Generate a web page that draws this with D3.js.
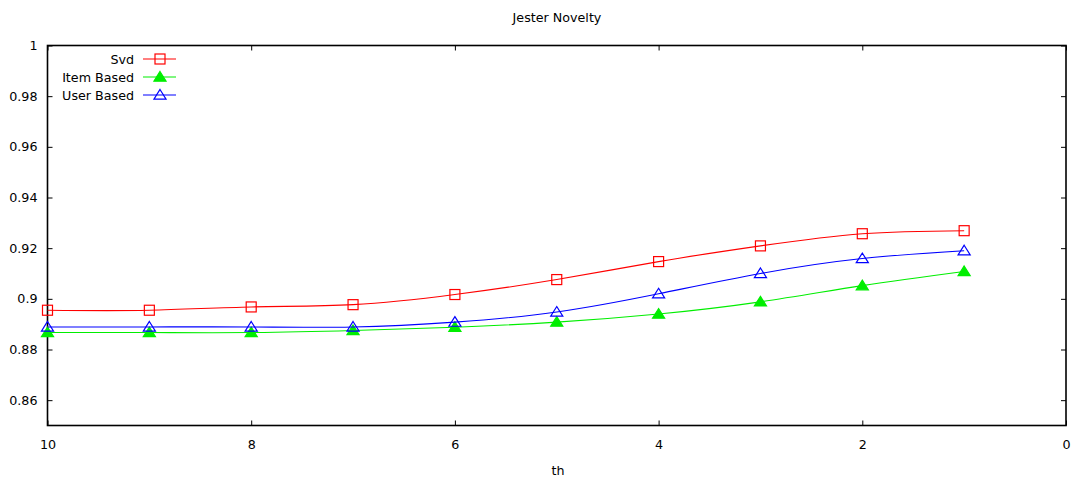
<!DOCTYPE html>
<html>
<head>
<meta charset="utf-8">
<script src="https://cdn.jsdelivr.net/npm/d3@7"></script>
<style>
  html, body { margin: 0; padding: 0; background: #fff; }
  svg { display: block; font-family: "DejaVu Sans", Verdana, sans-serif; }
</style>
</head>
<body>
<svg id="chart" width="1082" height="481"></svg>
<script>
// Novelty by threshold for three recommenders
const thresholds = [10, 9, 8, 7, 6, 5, 4, 3, 2, 1];
const svdValues  = [0.8955, 0.8955, 0.8968, 0.8977, 0.9017, 0.9076, 0.9147, 0.9209, 0.9257, 0.9269];
const itemValues = [0.8867, 0.8867, 0.8867, 0.8875, 0.8888, 0.8908, 0.8940, 0.8988, 0.9052, 0.9108];
const userValues = [0.8889, 0.8889, 0.8889, 0.8889, 0.8908, 0.8948, 0.9020, 0.9100, 0.9159, 0.9190];
const xTicks = [10, 8, 6, 4, 2, 0];
const yTicks = [0.86, 0.88, 0.9, 0.92, 0.94, 0.96, 0.98, 1];
const seriesNames = ["Svd", "Item Based", "User Based"];
const seriesColors = ["#ff0000", "#00ee00", "#0000ff"];
const seriesMarkers = ["square", "filledTriangle", "triangle"];

const FONT_SIZE = 12.7;
const svg = d3.select("#chart");
const plotLeft = 47.5, plotRight = 1066, plotTop = 45.5, plotBottom = 425.5;

const x = d3.scaleLinear().domain([10, 0]).range([plotLeft, plotRight]);
const y = d3.scaleLinear().domain([0.85, 1]).range([plotBottom, plotTop]);

// title
svg.append("text")
  .attr("x", 557).attr("y", 22)
  .attr("text-anchor", "middle")
  .attr("font-size", FONT_SIZE)
  .text("Jester Novelty");

// axes with inward ticks, mirrored on the opposite side
const tickStyle = g => {
  g.select(".domain").remove();
  g.selectAll(".tick line").attr("stroke", "#000").attr("stroke-width", 1);
  g.selectAll(".tick text").attr("font-size", FONT_SIZE).attr("fill", "#000")
    .attr("font-family", "DejaVu Sans, Verdana, sans-serif");
};

svg.append("g")
  .attr("transform", `translate(0,${plotBottom})`)
  .call(d3.axisBottom(x).tickValues(xTicks).tickFormat(d3.format("d"))
        .tickSizeInner(-5).tickSizeOuter(0).tickPadding(14))
  .call(tickStyle);

svg.append("g")
  .attr("transform", `translate(0,${plotTop})`)
  .call(d3.axisTop(x).tickValues(xTicks).tickFormat("")
        .tickSizeInner(-5).tickSizeOuter(0))
  .call(tickStyle);

svg.append("g")
  .attr("transform", `translate(${plotLeft},0)`)
  .call(d3.axisLeft(y).tickValues(yTicks).tickFormat(d => d3.format("")(+d.toFixed(2)))
        .tickSizeInner(-5).tickSizeOuter(0).tickPadding(10))
  .call(tickStyle);

svg.append("g")
  .attr("transform", `translate(${plotRight},0)`)
  .call(d3.axisRight(y).tickValues(yTicks).tickFormat("")
        .tickSizeInner(-5).tickSizeOuter(0))
  .call(tickStyle);

// plot border
svg.append("rect")
  .attr("x", plotLeft).attr("y", plotTop)
  .attr("width", plotRight - plotLeft).attr("height", plotBottom - plotTop)
  .attr("fill", "none").attr("stroke", "#000").attr("stroke-width", 1.6);

// x axis label
svg.append("text")
  .attr("x", 558).attr("y", 475)
  .attr("text-anchor", "middle")
  .attr("font-size", FONT_SIZE)
  .text("th");

// marker drawing
function drawMarker(g, type, color, cx, cy) {
  if (type === "square") {
    g.append("rect")
      .attr("x", cx - 5).attr("y", cy - 5)
      .attr("width", 10).attr("height", 10)
      .attr("fill", "none").attr("stroke", color).attr("stroke-width", 1.2);
  } else {
    const h = 5.5;
    g.append("path")
      .attr("d", `M${cx},${cy - h} L${cx + h * 1.1},${cy + h * 0.75} L${cx - h * 1.1},${cy + h * 0.75} Z`)
      .attr("fill", type === "filledTriangle" ? color : "none")
      .attr("stroke", color).attr("stroke-width", 1.2);
  }
}

const allValues = [svdValues, itemValues, userValues];
const line = d3.line().x(d => x(d[0])).y(d => y(d[1])).curve(d3.curveNatural);

allValues.forEach((vals, i) => {
  const pts = thresholds.map((t, j) => [t, vals[j]]);
  const g = svg.append("g");
  g.append("path")
    .datum(pts)
    .attr("d", line)
    .attr("fill", "none")
    .attr("stroke", seriesColors[i])
    .attr("stroke-width", 1.1);
  pts.forEach(p => drawMarker(g, seriesMarkers[i], seriesColors[i], x(p[0]), y(p[1])));
});

// legend
const legend = svg.append("g");
seriesNames.forEach((name, i) => {
  const ly = 59 + i * 18;
  legend.append("text")
    .attr("x", 134).attr("y", ly + 4.5)
    .attr("text-anchor", "end")
    .attr("font-size", FONT_SIZE)
    .text(name);
  legend.append("line")
    .attr("x1", 143).attr("x2", 176)
    .attr("y1", ly).attr("y2", ly)
    .attr("stroke", seriesColors[i]).attr("stroke-width", 1.1);
  drawMarker(legend, seriesMarkers[i], seriesColors[i], 160, ly);
});
</script>
</body>
</html>
